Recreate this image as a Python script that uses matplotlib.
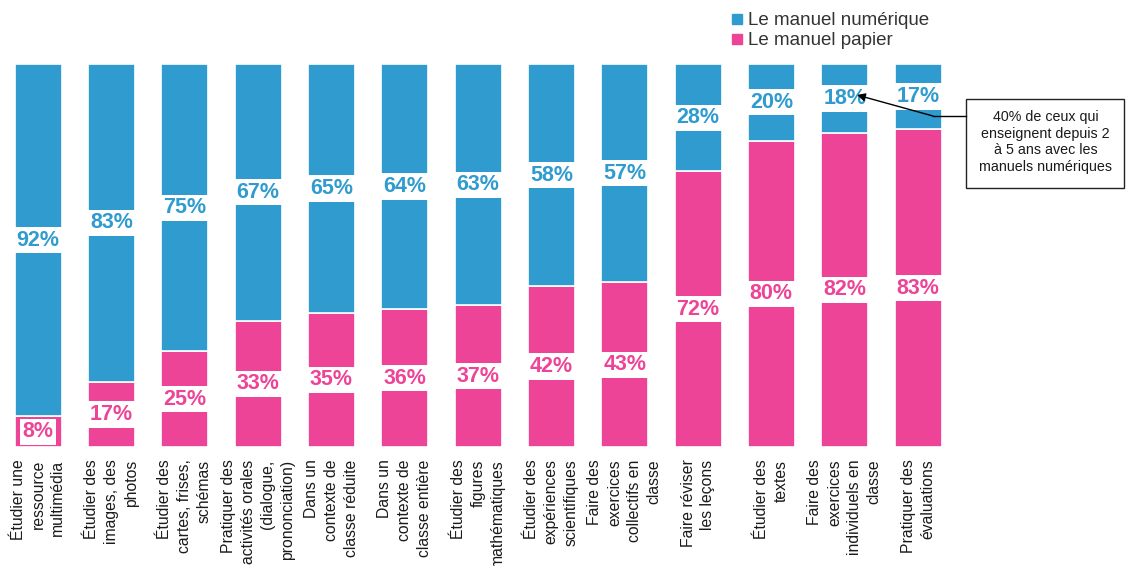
import matplotlib
matplotlib.use("Agg")
import matplotlib.pyplot as plt
from matplotlib.lines import Line2D
from matplotlib.patches import Rectangle

plt.rcParams['font.family'] = ['Liberation Sans', 'DejaVu Sans']

categories = [
    "Étudier une\nressource\nmultimédia",
    "Étudier des\nimages, des\nphotos",
    "Étudier des\ncartes, frises,\nschémas",
    "Pratiquer des\nactivités orales\n(dialogue,\nprononciation)",
    "Dans un\ncontexte de\nclasse réduite",
    "Dans un\ncontexte de\nclasse entière",
    "Étudier des\nfigures\nmathématiques",
    "Étudier des\nexpériences\nscientifiques",
    "Faire des\nexercices\ncollectifs en\nclasse",
    "Faire réviser\nles leçons",
    "Étudier des\ntextes",
    "Faire des\nexercices\nindividuels en\nclasse",
    "Pratiquer des\névaluations",
]
numerique = [92, 83, 75, 67, 65, 64, 63, 58, 57, 28, 20, 18, 17]
papier = [8, 17, 25, 33, 35, 36, 37, 42, 43, 72, 80, 82, 83]
series_names = ["Le manuel numérique", "Le manuel papier"]
annotation_text = "40% de ceux qui\nenseignent depuis 2\nà 5 ans avec les\nmanuels numériques"

BLUE = "#2F9BCF"
PINK = "#EE4497"

W, H = 1127, 566
fig = plt.figure(figsize=(W / 100, H / 100), dpi=100)
ax = fig.add_axes([0, (H - 447) / H, 1, (447 - 64) / H])

x = list(range(len(categories)))
pxu = 880 / 12
xmin = -38 / pxu
ax.set_xlim(xmin, xmin + W / pxu)
ax.set_ylim(0, 100)

bw = 47 / pxu
ax.bar(x, papier, width=bw, color=PINK, edgecolor="white", linewidth=1.2)
ax.bar(x, numerique, bottom=papier, width=bw, color=BLUE, edgecolor="white", linewidth=1.2)

for i in x:
    ax.text(i, papier[i] / 2, f"{papier[i]}%", ha="center", va="center",
            fontsize=15.5, fontweight="bold", color=PINK,
            bbox=dict(boxstyle="square,pad=0.12", fc="white", ec="none"))
    ax.text(i, papier[i] + numerique[i] / 2, f"{numerique[i]}%", ha="center", va="center",
            fontsize=15.5, fontweight="bold", color=BLUE,
            bbox=dict(boxstyle="square,pad=0.12", fc="white", ec="none"))

ax.set_xticks(x)
ax.set_xticklabels(categories, rotation=90, ha="center", va="top",
                   multialignment="right", fontsize=11.3, color="#1a1a1a",
                   linespacing=1.4)
ax.tick_params(axis="x", length=0, pad=9)
ax.set_yticks([])
for s in ax.spines.values():
    s.set_visible(False)

handles = [Line2D([], [], marker="s", linestyle="none", markersize=7, color=BLUE),
           Line2D([], [], marker="s", linestyle="none", markersize=7, color=PINK)]
fig.legend(handles, series_names, loc="upper left",
           bbox_to_anchor=(731 / W, 1 - 12 / H), frameon=False, fontsize=13.5,
           handlelength=0.6, handletextpad=0.3, labelspacing=0.15,
           borderaxespad=0, borderpad=0, labelcolor="#333333")

# annotation box
fig.text((966 + 1125) / 2 / W, 1 - 142 / H, annotation_text, ha="center", va="center",
         fontsize=10.3, color="#1a1a1a", linespacing=1.25)
fig.patches.append(Rectangle((966 / W, 1 - 188 / H), (1124 - 966) / W, 89 / H,
                             transform=fig.transFigure, fill=False, ec="#222222", lw=1))
fig.lines.append(Line2D([933 / W, 966 / W], [1 - 116 / H, 1 - 116 / H],
                        transform=fig.transFigure, color="black", lw=1))
ax.annotate("", xy=(857 / W, 1 - 95 / H), xycoords="figure fraction",
            xytext=(933 / W, 1 - 116 / H), textcoords="figure fraction",
            arrowprops=dict(arrowstyle="-|>", color="black", lw=1, mutation_scale=12,
                            shrinkA=0, shrinkB=0))

fig.savefig("out.png", dpi=100)
